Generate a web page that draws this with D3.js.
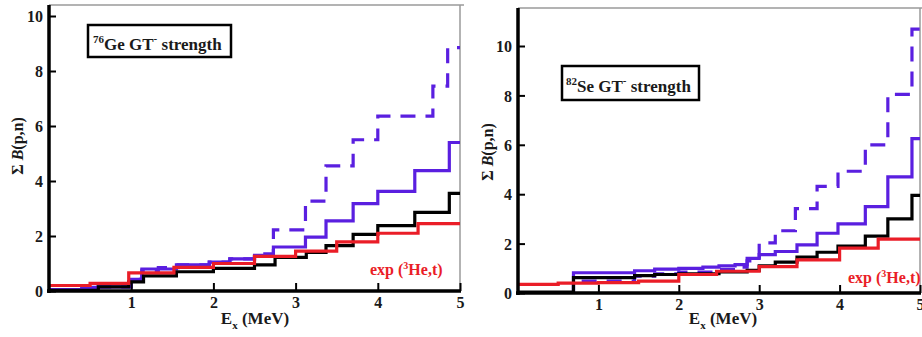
<!DOCTYPE html>
<html><head><meta charset="utf-8">
<script src="https://cdn.jsdelivr.net/npm/d3@7"></script>
<style>body{margin:0;background:#fff}svg{display:block}</style>
</head><body>
<svg id="c" width="922" height="337"></svg>
<script>
// ---- data (step-after points: [E_x (MeV), cumulative B]) ----
const xTicks = [1, 2, 3, 4, 5];
const yTicks = [0, 2, 4, 6, 8, 10];

const geBlack = [[0,0.02],[0.6,0.15],[0.97,0.33],[1.15,0.55],[1.55,0.7],[2.0,0.82],[2.5,0.95],[2.75,1.22],[3.13,1.4],[3.37,1.65],[3.7,2.06],[4.0,2.38],[4.45,2.86],[4.87,3.55],[5,3.55]];
const geRed = [[0,0.2],[0.5,0.28],[0.97,0.66],[1.52,0.86],[2.0,1.0],[2.5,1.26],[3.0,1.45],[3.5,1.79],[4.0,2.1],[4.49,2.45],[5,2.45]];
const geBlue = [[0,0.05],[0.4,0.13],[0.6,0.15],[1.0,0.42],[1.13,0.8],[1.55,0.95],[1.95,1.05],[2.2,1.17],[2.5,1.3],[2.73,1.6],[3.12,1.96],[3.37,2.55],[3.7,3.18],[4.0,3.62],[4.45,4.38],[4.87,5.4],[5,5.4]];
const geBlueDash = [[0,0.05],[0.4,0.13],[0.6,0.15],[1.0,0.42],[1.13,0.75],[1.33,0.85],[1.57,0.95],[1.95,1.05],[2.2,1.17],[2.5,1.35],[2.73,2.22],[3.12,3.27],[3.37,4.55],[3.7,5.5],[4.0,6.36],[4.67,7.45],[4.85,8.85],[5,8.85]];

const seBlack = [[0,0.04],[0.69,0.62],[1.45,0.7],[1.7,0.75],[2.0,0.78],[2.5,0.85],[2.85,0.92],[3.0,1.1],[3.2,1.25],[3.47,1.45],[3.72,1.65],[3.98,1.9],[4.32,2.3],[4.6,3.0],[4.9,3.95],[5,3.95]];
const seRed = [[0,0.35],[0.5,0.4],[1.0,0.42],[1.5,0.48],[2.0,0.75],[2.47,0.88],[3.0,1.07],[3.47,1.34],[4.0,1.82],[4.48,2.18],[5,2.18]];
const seBlue = [[0,0.02],[0.69,0.82],[1.45,0.9],[1.7,0.97],[2.0,1.0],[2.3,1.05],[2.5,1.1],[2.7,1.15],[2.85,1.4],[3.0,1.55],[3.2,1.68],[3.47,1.95],[3.72,2.42],[3.98,2.8],[4.32,3.5],[4.6,4.7],[4.9,6.25],[5,6.25]];
const seBlueDash = [[0,0.02],[0.69,0.48],[1.45,0.68],[1.7,0.78],[2.0,0.85],[2.5,0.95],[2.7,1.05],[2.85,1.3],[3.0,2.03],[3.2,2.52],[3.45,3.42],[3.72,4.32],[3.98,4.93],[4.32,6.0],[4.6,8.04],[4.9,10.68],[5,10.68]];

const panels = [
  {nucMass:"76", nuc:"Ge", series:{black:geBlack, red:geRed, blue:geBlue, dash:geBlueDash},
   x0:49, x1:460, yBot:291, y10:16, yTop:5, box:[88,25,143,32], boxText:[93,50],
   exp:[370,275], ylab:[17,146], xlabX:255},
  {nucMass:"82", nuc:"Se", series:{black:seBlack, red:seRed, blue:seBlue, dash:seBlueDash},
   x0:518, x1:920, yBot:293, y10:46, yTop:8, box:[562,66,137,34], boxText:[566,92],
   exp:[848,283], ylab:[487,152], xlabX:723}
];

const BLUE = "#5a1fe0", RED = "#ea1d27";
const svg = d3.select("#c");
svg.append("rect").attr("width",922).attr("height",337).attr("fill","#fff");
const serif = "'Liberation Serif','DejaVu Serif',serif";

panels.forEach(p => {
  const x = d3.scaleLinear().domain([0,5]).range([p.x0,p.x1]);
  const y = d3.scaleLinear().domain([0,10]).range([p.yBot,p.y10]);
  const g = svg.append("g");
  const topV = y.invert(p.yTop);

  // gray frame top & right
  g.append("line").attr("x1",x(0)).attr("x2",x(5)+4).attr("y1",y(topV)).attr("y2",y(topV))
    .attr("stroke","#9a9a9a").attr("stroke-width",1.5);
  g.append("line").attr("x1",x(5)).attr("x2",x(5)).attr("y1",y(topV)).attr("y2",y(0))
    .attr("stroke","#9a9a9a").attr("stroke-width",1.5);

  const line = d3.line().x(d=>x(d[0])).y(d=>y(d[1])).curve(d3.curveStepAfter);
  const draw = (data, color, dash) => g.append("path").attr("d", line(data))
    .attr("fill","none").attr("stroke",color).attr("stroke-width",3.2)
    .attr("stroke-dasharray", dash || null).attr("stroke-linejoin","miter");
  draw(p.series.dash, BLUE, "15,10");
  draw(p.series.blue, BLUE);
  draw(p.series.black, "#000");
  draw(p.series.red, RED);

  // axes
  const ax = d3.axisBottom(x).tickValues(xTicks).tickSize(-8).tickFormat(d3.format("d")).tickPadding(6);
  const gx = g.append("g").attr("transform",`translate(0,${y(0)})`).call(ax);
  const ay = d3.axisLeft(y).tickValues(yTicks).tickSize(-7).tickFormat(d3.format("d")).tickPadding(6);
  const gy = g.append("g").attr("transform",`translate(${x(0)},0)`).call(ay);
  [gx, gy].forEach(a => {
    a.select(".domain").remove();
    a.selectAll(".tick line").attr("stroke","#000").attr("stroke-width",2);
    a.selectAll(".tick text").attr("font-family",serif).attr("font-weight","bold")
      .attr("font-size",16).attr("fill","#1a1a1a");
  });
  gy.selectAll(".tick text").attr("dy","0.35em");

  g.append("line").attr("x1",x(0)).attr("x2",x(0)).attr("y1",y(topV)).attr("y2",y(0)+2)
    .attr("stroke","#000").attr("stroke-width",3.5);
  g.append("line").attr("x1",x(0)-2).attr("x2",x(5)+1).attr("y1",y(0)).attr("y2",y(0))
    .attr("stroke","#000").attr("stroke-width",3.5);

  // axis titles
  const xt = g.append("text").attr("x",p.xlabX).attr("y",324).attr("text-anchor","middle")
    .attr("font-family",serif).attr("font-weight","bold").attr("font-size",17).attr("fill","#1a1a1a");
  xt.append("tspan").text("E");
  xt.append("tspan").text("x").attr("font-size",11).attr("dy",5);
  xt.append("tspan").text(" (MeV)").attr("dy",-5);

  const yt = g.append("text").attr("transform",`translate(${p.ylab[0]},${p.ylab[1]}) rotate(-90)`)
    .attr("text-anchor","middle").attr("dy","0.35em")
    .attr("font-family",serif).attr("font-weight","bold").attr("font-size",16).attr("fill","#1a1a1a");
  yt.append("tspan").text("\u03A3 ");
  yt.append("tspan").text("B").attr("font-style","italic");
  yt.append("tspan").text("(p,n)");

  // label box
  g.append("rect").attr("x",p.box[0]).attr("y",p.box[1]).attr("width",p.box[2]).attr("height",p.box[3])
    .attr("fill","#fff").attr("stroke","#000").attr("stroke-width",2.5);
  const bt = g.append("text").attr("x",p.boxText[0]).attr("y",p.boxText[1])
    .attr("font-family",serif).attr("font-weight","bold").attr("font-size",17).attr("fill","#1a1a1a");
  bt.append("tspan").text(p.nucMass).attr("font-size",11).attr("dy",-7);
  bt.append("tspan").text(p.nuc + " GT").attr("dy",7);
  bt.append("tspan").text("-").attr("font-size",11).attr("dy",-8);
  bt.append("tspan").text(" strength").attr("dy",8);

  const et = g.append("text").attr("x",p.exp[0]).attr("y",p.exp[1])
    .attr("font-family",serif).attr("font-weight","bold").attr("font-size",16).attr("fill",RED);
  et.append("tspan").text("exp (");
  et.append("tspan").text("3").attr("font-size",10).attr("dy",-6);
  et.append("tspan").text("He,t)").attr("dy",6);
});
</script>
</body></html>
